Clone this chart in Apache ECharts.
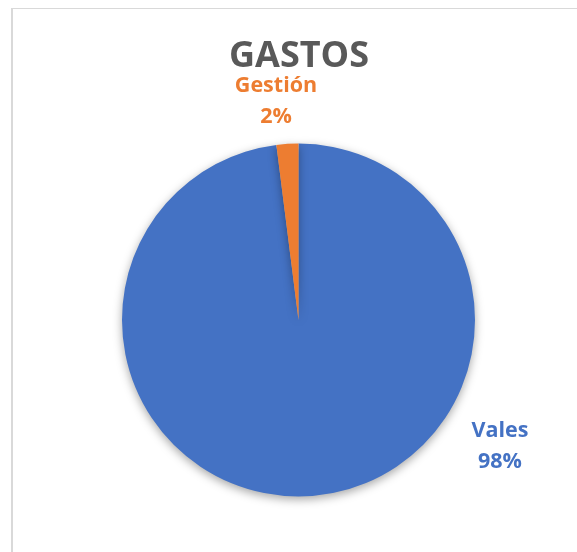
<!DOCTYPE html>
<html><head><meta charset="utf-8">
<script src="https://cdn.jsdelivr.net/npm/echarts@6/dist/echarts.min.js"></script>
<style>
html,body{margin:0;padding:0;background:#fff;overflow:hidden;}
#frame{position:absolute;left:11px;top:8px;width:700px;height:700px;border-top:1px solid #d9d9d9;border-left:2px solid #d9d9d9;}
#chart{position:absolute;left:0;top:0;width:577px;height:552px;}
</style></head>
<body>
<div id="frame"></div>
<div id="chart"></div>
<script>
const categories = ['Vales', 'Gestión'];
const values = [98, 2];
const colors = ['#4472C4', '#ED7D31'];
const labelSpots = [[500, 446], [276, 101]];

const chart = echarts.init(document.getElementById('chart'));
chart.setOption({
  animation: false,
  title: {
    text: 'GASTOS', left: 224, top: 34,
    textStyle: { fontFamily: 'Open Sans', fontWeight: 'bold', fontSize: 36, color: '#595959' }
  },
  series: [{
    type: 'pie',
    center: [298.5, 320],
    radius: 176.5,
    startAngle: 90,
    clockwise: true,
    data: categories.map((c, i) => ({ name: c, value: values[i], itemStyle: { color: colors[i] } })),
    itemStyle: { shadowBlur: 10, shadowColor: 'rgba(0,0,0,0.35)', shadowOffsetY: 3, borderWidth: 0 },
    label: {
      show: true,
      formatter: p => p.name + '\n' + Math.round(p.percent) + '%',
      fontFamily: 'Open Sans', fontWeight: 'bold', fontSize: 21.5, lineHeight: 31,
      color: 'inherit'
    },
    labelLine: { show: false },
    labelLayout: p => ({ x: labelSpots[p.dataIndex][0], y: labelSpots[p.dataIndex][1], align: 'center', verticalAlign: 'middle' })
  }]
});
</script>
</body></html>
